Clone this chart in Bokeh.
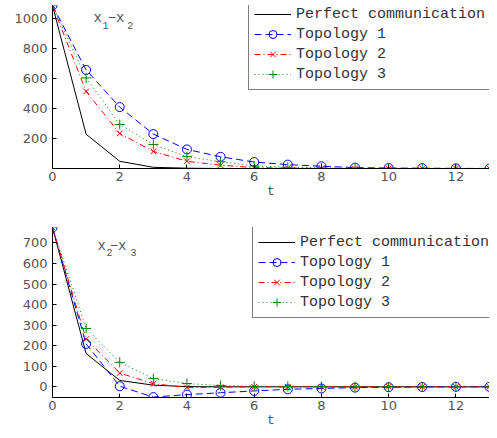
from bokeh.plotting import figure
from bokeh.layouts import column
from bokeh.models import Legend, LegendItem, Label, Range1d, FixedTicker
from bokeh.embed import file_html
from bokeh.resources import INLINE

t = list(range(14))
series_names = ["Perfect communication", "Topology 1", "Topology 2", "Topology 3"]

top_perfect = [1085, 228, 48, 8, 2, 0, 0, 0, 0, 0, 0, 0, 0, 0]
top_topo1 = [1085, 656, 409, 229, 127, 78, 43, 26, 15, 6, 3, 2, 1, 0]
top_topo2 = [1085, 513, 233, 114, 48, 22, 6, 3, 1, 0, 0, 0, 0, 0]
top_topo3 = [1085, 603, 293, 160, 79, 45, 17, 8, 4, 2, 1, 0, 0, 0]

bot_perfect = [775, 162, 31, 8, 1, 0, 0, 0, 0, 0, 0, 0, 0, 0]
bot_topo1 = [775, 209, 3, -50, -38, -29, -20, -12, -8, -4, -2, -1, 0, 0]
bot_topo2 = [775, 232, 67, 15, -3, -2, 0, 0, 0, 0, 0, 0, 0, 0]
bot_topo3 = [775, 284, 119, 40, 16, 6, 3, 2, 1, 0, 0, 0, 0, 0]

x_ticks = [0, 2, 4, 6, 8, 10, 12]
top_y_ticks = [200, 400, 600, 800, 1000]
bot_y_ticks = [0, 100, 200, 300, 400, 500, 600, 700]

GRAY = "#555555"
MONO = "Liberation Mono"

styles = [
    dict(color="black", dash="solid", marker=None, size=0),
    dict(color="#0000ff", dash="7 4", marker="circle", size=9),
    dict(color="#ff0000", dash="6 3 1 3", marker="x", size=8),
    dict(color="#008000", dash="1 3", marker="cross", size=10),
]


def make(series, yr, yticks, height, top_border, title_parts, legend_loc):
    p = figure(width=489, height=height,
               x_range=Range1d(0, 13), y_range=Range1d(*yr),
               output_backend="svg", toolbar_location=None,
               min_border_left=52, min_border_right=0,
               min_border_top=top_border, min_border_bottom=20)
    p.outline_line_color = None
    p.xgrid.visible = False
    p.ygrid.visible = False
    for ax in (p.xaxis[0], p.yaxis[0]):
        ax.major_tick_in = 4
        ax.major_tick_out = 0
        ax.minor_tick_line_color = None
        ax.axis_line_color = "black"
        ax.major_tick_line_color = "black"
        ax.major_label_text_color = GRAY
        ax.major_label_text_font = "DejaVu Sans"
        ax.major_label_text_font_size = "13px"
        ax.major_label_standoff = 5
    p.xaxis.major_label_standoff = 3
    p.xaxis.ticker = FixedTicker(ticks=x_ticks)
    p.yaxis.ticker = FixedTicker(ticks=yticks)
    p.xaxis.axis_label = "t"
    p.xaxis.axis_label_text_font = MONO
    p.xaxis.axis_label_text_font_size = "13px"
    p.xaxis.axis_label_text_font_style = "normal"
    p.xaxis.axis_label_text_color = GRAY
    p.xaxis.axis_label_standoff = 0

    items = []
    for name, ys, st in zip(series_names, series, styles):
        rs = [p.line(t, ys, line_color=st["color"], line_dash=st["dash"], line_width=1)]
        if st["marker"]:
            rs.append(p.scatter(t, ys, marker=st["marker"], size=st["size"],
                                line_color=st["color"], fill_color=None, line_width=1))
        items.append(LegendItem(label=name, renderers=rs))

    legend = Legend(items=items, location=legend_loc,
                    border_line_color="black", border_line_width=1.5,
                    background_fill_color="white", background_fill_alpha=1,
                    label_text_font=MONO, label_text_font_size="15px",
                    label_text_color="#333333", glyph_width=37, glyph_height=20,
                    label_height=20, spacing=0, padding=5, margin=0,
                    label_standoff=5, label_width=245)
    p.add_layout(legend)

    for (x, y, txt, fs) in title_parts:
        p.add_layout(Label(x=x, y=y, text=txt, text_font=MONO, text_font_size=fs,
                           text_color=GRAY, text_baseline="alphabetic"))
    return p


top_title = [(1.22, 1002, "x", "14px"), (1.49, 952, "1", "10px"),
             (1.64, 1002, "\u2212x", "14px"), (2.22, 952, "2", "10px")]
bot_title = [(1.34, 687, "x", "14px"), (1.61, 653, "2", "10px"),
             (1.70, 687, "\u2212x", "14px"), (2.32, 653, "3", "10px")]

p1 = make([top_perfect, top_topo1, top_topo2, top_topo3], (0, 1085), top_y_ticks,
          201, 5, top_title, (196, 78))
p2 = make([bot_perfect, bot_topo1, bot_topo2, bot_topo3], (-52, 775), bot_y_ticks,
          229, 26, bot_title, (200, 79))

layout = column(p1, p2, spacing=0)
open("out.html", "w").write(file_html(layout, INLINE))
